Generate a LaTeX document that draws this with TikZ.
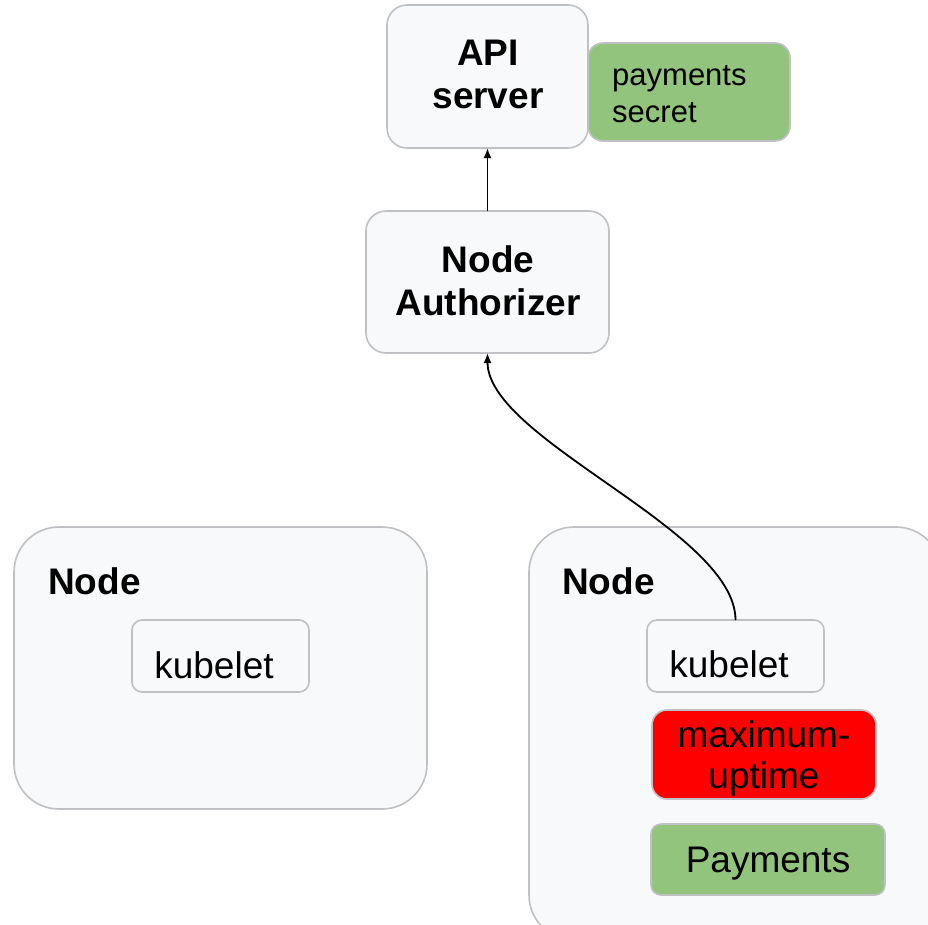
\documentclass[tikz,border=0pt]{standalone}
\usepackage{fontspec}
\setmainfont{Liberation Sans}
\usetikzlibrary{arrows.meta}
\definecolor{boxfill}{HTML}{F8F9FA}
\definecolor{boxline}{HTML}{BFC1C4}
\definecolor{podgreen}{HTML}{93C47D}
\definecolor{podred}{HTML}{FF0000}
\tikzset{
  box/.style={draw=boxline, fill=boxfill, line width=1.6pt, inner sep=0pt, outer sep=0pt},
  bigtxt/.style={inner sep=0pt, font=\fontsize{37}{43}\selectfont},
  boldtxt/.style={bigtxt, font=\fontsize{37}{43}\selectfont\bfseries},
  smalltxt/.style={inner sep=0pt, font=\fontsize{31}{36}\selectfont},
  link/.style={line width=1.8pt, -{Latex[length=10pt,width=8pt]}}
}
\begin{document}
\begin{tikzpicture}[x=1pt,y=-1pt]
\useasboundingbox (0,0) rectangle (928,924);
\clip (0,0) rectangle (928,924);

% control plane
\node[box, rounded corners=20pt, minimum width=201pt, minimum height=143pt] (api) at (487.5,76.5) {};
\node[box, fill=podgreen, rounded corners=15pt, minimum width=202pt, minimum height=98pt] (secret) at (689,92) {};
\node[box, rounded corners=20pt, minimum width=243pt, minimum height=142pt] (auth) at (487.5,282) {};

% worker nodes
\node[box, rounded corners=45pt, minimum width=413pt, minimum height=282pt] (nodeL) at (220.5,668) {};
\node[box, rounded corners=10pt, minimum width=177pt, minimum height=72pt] (kubeL) at (220.5,656) {};
\node[box, rounded corners=45pt, minimum width=412pt, minimum height=413pt] (nodeR) at (735,733.5) {};
\node[box, rounded corners=10pt, minimum width=177pt, minimum height=72pt] (kubeR) at (735.5,656) {};
\node[box, fill=podred, rounded corners=15pt, minimum width=224pt, minimum height=89pt] (uptime) at (764,754.5) {};
\node[box, fill=podgreen, rounded corners=10pt, minimum width=234pt, minimum height=71pt] (pay) at (768,859.5) {};

% labels
\node[boldtxt, anchor=base] (apiA) at (488,65) {API};
\node[boldtxt, anchor=base] (apiB) at (488,108) {server};
\node[smalltxt, anchor=base west] (secA) at (612,85) {payments};
\node[smalltxt, anchor=base west] (secB) at (612,122) {secret};
\node[boldtxt, anchor=base] (authA) at (488,272) {Node};
\node[boldtxt, anchor=base] (authB) at (488,315) {Authorizer};
\node[boldtxt, anchor=base west] (nodeLT) at (48,594) {Node};
\node[bigtxt, anchor=base] (kubeLT) at (214,678) {kubelet};
\node[boldtxt, anchor=base west] (nodeRT) at (562,594) {Node};
\node[bigtxt, anchor=base] (kubeRT) at (729,677) {kubelet};
\node[bigtxt, anchor=base] (upA) at (764,747) {maximum-};
\node[bigtxt, anchor=base] (upB) at (764,788) {uptime};
\node[bigtxt, anchor=base] (payT) at (768,872) {Payments};

% requests
\draw[link] (auth.north) -- (api.south);
\draw[link] (kubeR.north) .. controls (735.5,530) and (487.5,440) .. (auth.south);
\end{tikzpicture}
\end{document}
